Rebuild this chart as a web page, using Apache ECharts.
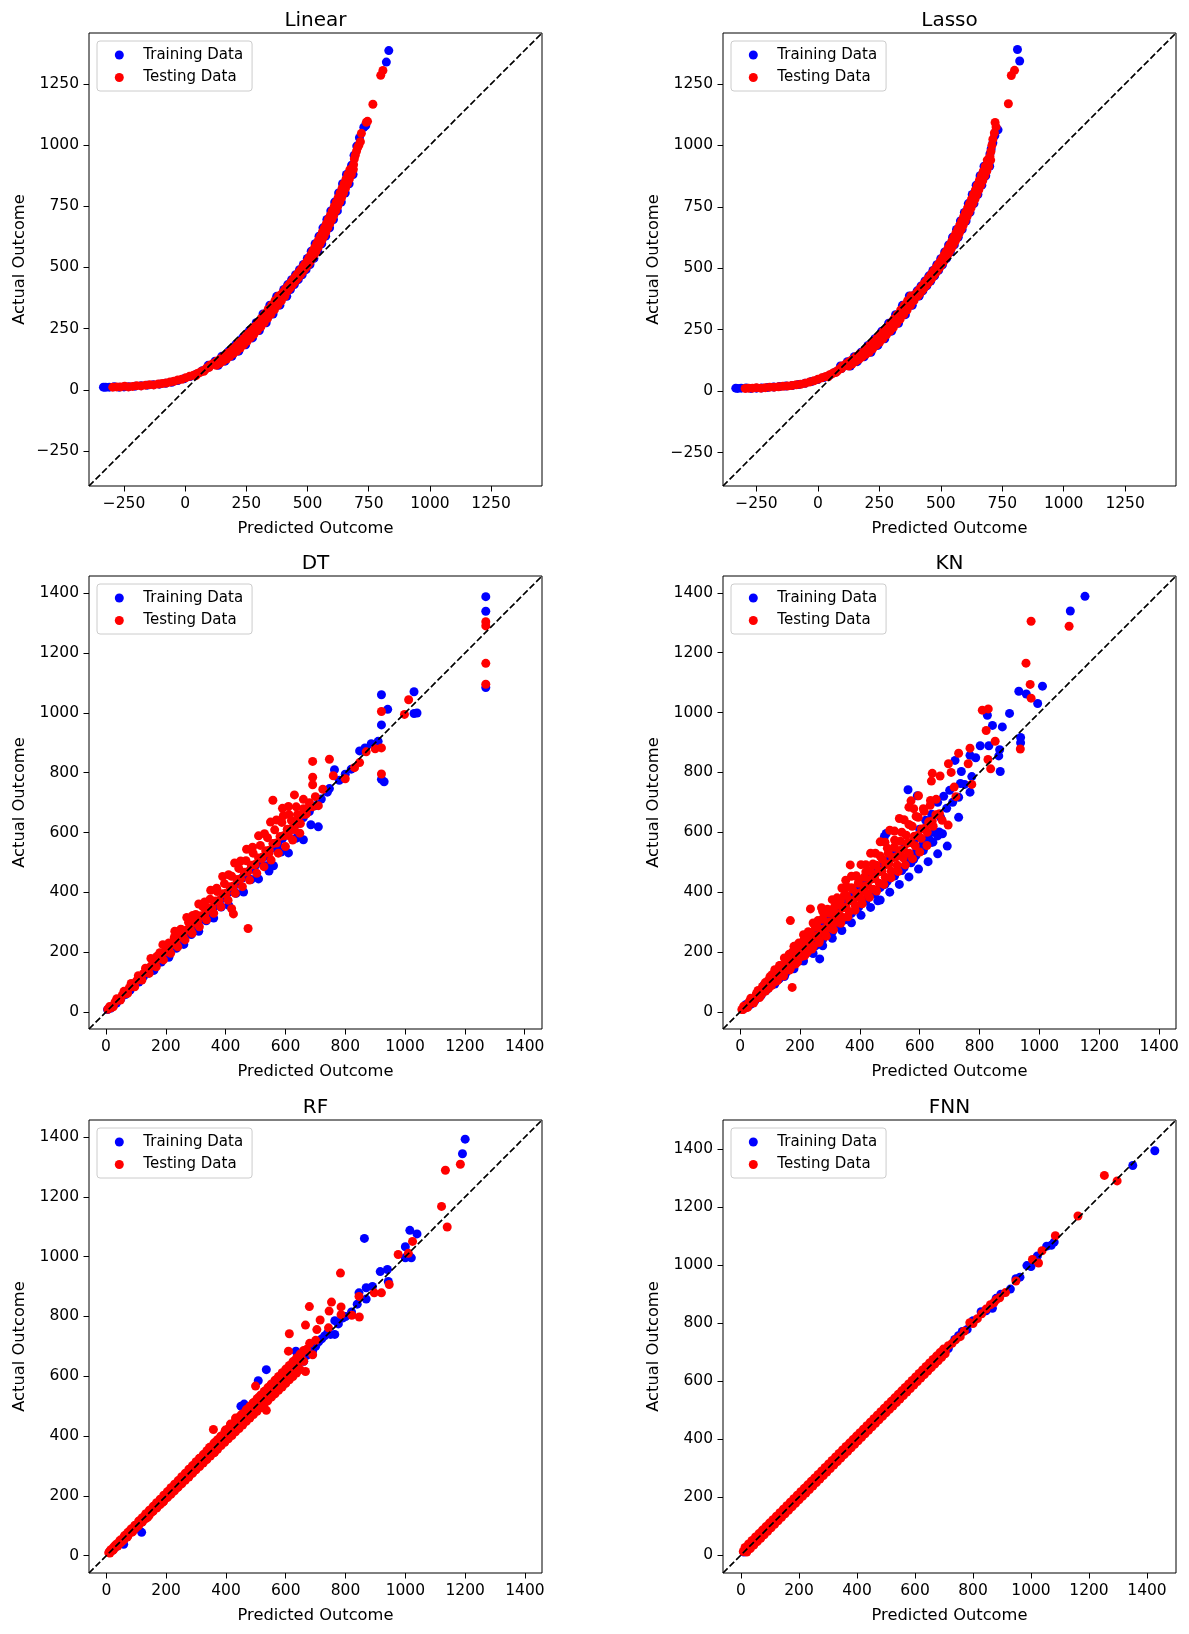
<!DOCTYPE html>
<html>
<head>
<meta charset="utf-8">
<script src="https://cdn.jsdelivr.net/npm/echarts@6/dist/echarts.min.js"></script>
<style>
  html, body { margin: 0; padding: 0; background: #fff; }
  #chart { width: 1189px; height: 1634px; }
</style>
</head>
<body>
<div id="chart"></div>
<script>
const FONT = 'DejaVu Sans';

const titles = ['Linear', 'Lasso', 'DT', 'KN', 'RF', 'FNN'];
const ticks250 = [-250, 0, 250, 500, 750, 1000, 1250];
const ticks200 = [0, 200, 400, 600, 800, 1000, 1200, 1400];

// axis limits (same for x and y in each panel)
const linearLim = [-393, 1458];
const lassoLim = [-386, 1457];
const dtLim = [-57, 1458];
const knLim = [-57, 1456];
const rfLim = [-58, 1457];
const fnnLim = [-62, 1500];

// [predicted, actual]
const linearTrain = [
  [-334,11],[-325,10],[-310,11],[-290,13],[-270,11],[-250,12],[-230,13],[-205,15],[-180,17],[-155,19],
  [-130,21],[-105,23],[-80,27],[-55,31],[-30,38],[-5,45],[20,54],[45,64],[70,78],[95,92],
  [94,100],[122,117],[150,137],[178,158],[206,184],[234,212],[262,242],[290,274],[318,310],[346,346],[374,382],
  [403,410],[419,430],[435,450],[451,470],[467,491],[483,512],[499,537],[515,566],[531,597],
  [547,628],[563,662],[579,696],[595,731],[611,767],[627,804],[643,842],[659,880],
  [135,100],[163,117],[191,137],[219,158],[247,184],[275,212],[303,242],[331,274],[359,310],[387,346],[415,382],
  [430,410],[446,430],[462,450],[478,470],[494,491],[510,512],[526,537],[542,566],[558,597],
  [574,628],[590,662],[606,696],[622,731],[638,767],[654,804],[670,842],[686,880],
  [672,890],[680,918],[690,958],[701,996],[712,1030],[730,1073],[738,1080],[822,1339],[832,1386]
];
const linearTest = [
  [-296,11],[-280,12],[-264,12],[-247,15],[-232,12],[-215,14],[-198,17],[-180,16],[-162,19],[-145,21],
  [-128,20],[-110,24],[-94,26],[-78,28],[-62,32],[-46,35],[-30,40],[-14,43],[2,49],[18,55],
  [34,60],[50,67],[66,75],[82,83],[98,92],[44,58],[60,70],[76,76],[90,90],
  [101,100],[115,108],[129,117],[143,126],[157,137],[171,148],[185,158],[199,171],[213,184],[227,198],
  [241,212],[255,227],[269,242],[283,257],[297,274],[311,292],[325,310],[339,328],[353,346],[367,364],[381,382],
  [127,100],[141,108],[155,117],[169,126],[183,137],[197,148],[211,158],[225,171],[239,184],[253,198],
  [267,212],[281,227],[295,242],[309,257],[323,274],[337,292],[351,310],[365,328],[379,346],[393,364],[407,382],
  [393,390],[401,400],[409,410],[417,420],[425,430],[433,440],[441,450],[449,460],[457,470],[465,481],
  [473,491],[481,502],[489,512],[497,524],[505,537],[513,551],[521,566],[529,581],[537,597],[545,612],
  [553,628],[561,645],[569,662],[577,679],[585,696],[593,713],[601,731],[609,749],[617,767],[625,785],
  [633,804],[641,823],[649,842],[657,861],[665,880],[673,900],
  [407,390],[415,400],[423,410],[431,420],[439,430],[447,440],[455,450],[463,460],[471,470],[479,481],
  [487,491],[495,502],[503,512],[511,524],[519,537],[527,551],[535,566],[543,581],[551,597],[559,612],
  [567,628],[575,645],[583,662],[591,679],[599,696],[607,713],[615,731],[623,749],[631,767],[639,785],
  [647,804],[655,823],[663,842],[671,861],[679,880],[687,900],
  [685,905],[688,920],[691,943],[695,958],[700,975],[705,990],[710,1000],[716,1014],[720,1048],[740,1093],
  [745,1097],[767,1167],[799,1285],[808,1305]
];

const lassoTrain = [
  [-334,12],[-326,11],[-312,12],[-292,13],[-272,11],[-250,12],[-228,13],[-204,15],[-180,17],[-156,19],
  [-130,21],[-104,23],[-78,27],[-52,32],[-26,39],[0,47],[24,55],[48,65],[72,78],[96,92],
  [92,102],[120,120],[148,140],[176,158],[204,186],[232,213],[260,244],[288,276],[316,311],[344,349],[372,387],
  [132,102],[160,120],[188,140],[216,158],[244,186],[272,213],[300,244],[328,276],[356,311],[384,349],[412,387],
  [388,388],[404,408],[420,428],[436,448],[452,469],[468,491],[484,514],[500,539],[516,566],[532,595],
  [548,626],[564,658],[580,692],[596,727],[612,763],[628,800],[644,838],[660,876],[676,915],
  [411,388],[427,408],[443,428],[459,448],[475,469],[491,491],[507,514],[523,539],[539,566],[555,595],
  [571,626],[587,658],[603,692],[619,727],[635,763],[651,800],[667,838],[683,876],[699,915],
  [700,965],[705,985],[712,1010],[720,1040],[725,1060],[733,1063],[812,1390],[821,1343]
];
const lassoTest = [
  [-296,11],[-282,12],[-266,12],[-250,14],[-232,12],[-214,14],[-196,16],[-178,16],[-160,18],[-142,20],
  [-124,21],[-106,23],[-88,26],[-70,28],[-52,32],[-34,37],[-16,42],[0,48],[16,54],[32,60],
  [48,67],[64,75],[80,83],[96,92],[42,58],[58,70],[74,76],[88,90],
  [99,102],[113,110],[127,120],[141,129],[155,140],[169,150],[183,158],[197,172],[211,186],[225,199],
  [239,213],[253,229],[267,244],[281,259],[295,276],[309,293],[323,311],[337,330],[351,349],[365,368],[379,387],
  [125,102],[139,110],[153,120],[167,129],[181,140],[195,150],[209,158],[223,172],[237,186],[251,199],
  [265,213],[279,229],[293,244],[307,259],[321,276],[335,293],[349,311],[363,330],[377,349],[391,368],[405,387],
  [393,388],[401,398],[409,408],[417,418],[425,428],[433,438],[441,448],[449,458],[457,469],[465,480],
  [473,491],[481,502],[489,514],[497,526],[505,539],[513,552],[521,566],[529,580],[537,595],[545,610],
  [553,626],[561,642],[569,658],[577,675],[585,692],[593,710],[601,727],[609,745],[617,763],[625,781],
  [633,800],[641,819],[649,838],[657,857],[665,876],[673,895],[681,915],[689,940],
  [407,388],[415,398],[423,408],[431,418],[439,428],[447,438],[455,448],[463,458],[471,469],[479,480],
  [487,491],[495,502],[503,514],[511,526],[519,539],[527,552],[535,566],[543,580],[551,595],[559,610],
  [567,626],[575,642],[583,658],[591,675],[599,692],[607,710],[615,727],[623,745],[631,763],[639,781],
  [647,800],[655,819],[663,838],[671,857],[679,876],[687,895],[695,915],[703,940],
  [700,955],[704,975],[708,1000],[712,1025],[718,1050],[721,1093],[725,1075],[775,1169],[787,1284],[800,1305]
];

const dtTrain = [
  [5,8],[15,12],[25,22],[35,30],[50,45],[65,58],[80,72],[95,90],[110,100],[125,118],
  [140,130],[155,145],[170,160],[185,178],[200,190],[215,205],[230,220],[245,238],[260,250],[275,262],
  [290,280],[305,298],[320,310],[335,322],[350,340],[365,355],[380,372],[395,385],[410,400],[425,412],
  [440,430],[455,448],[470,460],[485,478],[500,490],[515,505],[530,520],[545,471],[560,548],[575,560],
  [590,580],[605,595],[620,610],[640,630],[660,650],[680,670],[700,690],[720,712],[740,735],[747,747],
  [764,810],[780,775],[800,795],[820,812],[848,873],[866,883],[887,897],[910,905],[921,1061],[921,960],
  [921,778],[930,770],[942,1012],[1030,1071],[1030,998],[1040,1000],[1270,1389],[1270,1340],[1270,1085],
  [160,139],[185,167],[210,183],[235,213],[260,226],[285,259],[310,270],[335,305],[360,314],[385,351],
  [410,357],[435,397],[460,401],[485,443],[510,445],[535,489],[560,489],[585,535],[610,532],[635,581],
  [660,576],[685,626],[710,619]
];
const dtTest = [
  [6,9],[18,15],[30,33],[42,40],[54,55],[66,62],[78,81],[90,87],[102,104],[114,110],
  [126,129],[138,134],[150,153],[162,158],[174,177],[186,181],[198,201],[210,205],[222,226],[234,229],
  [246,250],[258,253],[270,274],[282,277],[294,298],[306,301],[318,322],[330,325],[342,347],[354,349],
  [366,371],[378,373],[390,395],[402,397],[414,419],[426,421],[438,443],[450,445],[462,467],[474,469],
  [486,491],[498,493],[510,515],[522,517],[534,539],[546,541],[558,563],[570,565],[582,587],[594,589],
  [606,611],[618,613],[630,636],[642,637],[654,660],[666,661],[678,684],[690,686],
  [12,18],[36,44],[60,69],[84,95],[108,121],[132,146],[156,172],[180,198],[204,223],[228,249],
  [252,275],[276,300],[300,326],[324,352],[348,377],[372,403],[396,429],[420,454],[444,480],[468,506],
  [492,531],[516,557],[540,583],[564,609],[588,634],[612,660],[636,686],[660,711],
  [24,17],[48,40],[72,62],[96,84],[120,107],[144,129],[168,151],[192,174],[216,196],[240,218],
  [264,241],[288,263],[312,285],[336,308],[360,330],[384,352],[408,374],[432,397],[456,419],[480,441],
  [504,464],[528,486],[552,508],[576,531],[600,553],[624,575],[648,598],
  [150,179],[170,186],[190,225],[210,231],[230,270],[250,277],[270,316],[290,323],[310,361],[330,368],
  [350,407],[370,414],[390,453],[410,459],[430,498],[450,505],[470,544],[490,551],[510,589],[530,596],
  [550,635],[570,642],[590,681],[610,687],[630,726],
  [420,345],[426,328],[475,279],[545,531],[558,708],[593,656],[520,513],[610,590],[620,640],[630,610],
  [640,660],[650,630],[660,680],[670,663],[680,700],[691,785],[691,838],[691,760],[700,720],[710,690],
  [725,745],[747,845],[760,790],[800,780],[831,817],[848,834],[870,870],[900,880],[921,1005],[921,883],
  [921,796],[1012,1044],[998,995],[1270,1305],[1270,1291],[1270,1166],[1270,1096]
];

const knTrain = [
  [12,10],[20,25],[30,22],[40,45],[50,38],[60,65],[70,55],[80,90],[90,75],[100,110],
  [110,95],[120,135],[130,110],[140,150],[150,125],[160,175],[170,150],[180,200],[190,165],[200,215],
  [210,190],[220,240],[230,205],[240,260],[250,225],[260,280],[266,177],[270,240],[280,300],[290,255],
  [300,320],[310,270],[320,340],[330,290],[340,360],[350,310],[360,380],[370,330],[380,400],[390,350],
  [400,420],[410,370],[420,440],[430,385],[440,460],[450,400],[460,371],[460,480],[470,420],[480,500],
  [482,586],[488,596],[490,440],[500,515],[510,460],[520,530],[530,480],[540,472],[550,560],[560,510],
  [561,742],[571,498],[580,570],[590,540],[592,722],[600,610],[610,560],[620,640],[630,580],[640,660],
  [650,600],[660,700],[665,601],[670,650],[680,720],[690,680],[700,740],[710,700],[718,840],[730,650],
  [730,717],[736,763],[739,803],[750,760],[768,734],[768,857],[774,786],[787,849],[802,889],[826,991],
  [831,889],[843,957],[864,855],[867,876],[869,803],[876,952],[900,997],[931,1071],[937,917],[937,899],
  [956,1062],[994,1030],[1010,1088],[1103,1339],[1152,1388],
  [36,26],[60,48],[84,70],[108,91],[132,113],[156,134],[180,156],[204,178],[228,199],[252,221],
  [276,242],[300,264],[324,286],[348,307],[372,329],[396,350],[420,372],[444,394],[468,415],[492,437],
  [516,458],[540,480],[564,502],[588,523],[612,545],[636,566],[660,588],
  [100,88],[116,93],[132,116],[148,118],[164,144],[180,144],[196,172],[212,170],[228,201],[244,195],
  [260,229],[276,221],[292,257],[308,246],[324,285],[340,272],[356,313],[372,298],[388,341],[404,323],
  [420,370],[436,349],[452,398],[468,374],[484,426],[500,400],[516,454],[532,426],[548,482],[564,451],
  [580,510],[596,477],[612,539],[628,502],[644,567],[660,528],[676,595],[692,554]
];
const knTest = [
  [10,8],[18,20],[25,15],[35,40],[45,30],[55,62],[65,48],[75,85],[85,70],[95,105],
  [105,88],[115,130],[125,105],[135,155],[145,120],[155,170],[165,140],[168,305],[174,82],[175,200],
  [185,160],[195,225],[205,185],[215,245],[225,200],[235,344],[235,265],[245,220],[255,290],[265,240],
  [272,348],[275,310],[285,260],[295,330],[305,280],[315,350],[325,300],[335,370],[345,315],[353,440],
  [355,390],[365,335],[368,491],[375,410],[385,355],[395,430],[405,375],[415,450],[425,395],[435,470],
  [445,410],[455,490],[465,430],[475,510],[485,450],[495,530],[505,470],[515,550],[525,490],[535,570],
  [545,515],[555,590],[565,530],[571,705],[575,620],[585,555],[595,650],[605,580],[615,670],[625,600],
  [635,690],[639,771],[642,797],[645,620],[655,710],[668,788],[675,640],[695,624],[696,829],[705,800],
  [715,751],[721,719],[730,864],[762,829],[768,881],[774,760],[809,1008],[822,940],[828,843],[829,1012],
  [837,812],[852,904],[936,878],[955,1165],[969,1094],[972,1048],[972,1305],[1099,1288],
  [6,8],[18,16],[30,33],[42,40],[54,57],[66,63],[78,82],[90,86],[102,106],[114,110],
  [126,131],[138,134],[150,155],[162,158],[174,179],[186,182],[198,203],[210,206],[222,227],[234,230],
  [246,251],[258,254],[270,275],[282,278],[294,299],[306,302],[318,323],[330,326],[342,347],[354,350],
  [366,371],[378,374],[390,395],[402,398],[414,419],[426,422],[438,443],[450,446],[462,467],[474,470],
  [486,491],[498,494],[510,515],[522,518],[534,539],[546,542],[558,563],[570,566],[582,587],[594,590],
  [606,611],[618,614],[630,635],[642,638],[654,659],[666,662],
  [12,19],[36,46],[60,72],[84,98],[108,125],[132,151],[156,178],[180,204],[204,230],[228,257],
  [252,283],[276,310],[300,336],[324,362],[348,389],[372,415],[396,442],[420,468],[444,494],[468,521],
  [492,547],[516,574],[540,600],[564,626],[588,653],[612,679],[636,706],
  [100,118],[116,141],[132,155],[148,180],[164,193],[180,219],[196,230],[212,258],[228,268],[244,297],
  [260,305],[276,336],[292,343],[308,375],[324,381],[340,414],[356,418],[372,453],[388,455],[404,492],
  [420,492],[436,530],[452,530],[468,568],[484,567],[500,607],[516,604],[532,646],[548,642],[564,684],
  [580,679],[596,722],
  [24,16],[48,37],[72,59],[96,80],[120,102],[144,124],[168,145],[192,167],[216,188],[240,210],
  [264,232],[288,253],[312,275],[336,296],[360,318],[384,340],[408,361],[432,383],[456,404],[480,426],
  [504,448],[528,469],[552,491],[576,512],[600,534],[624,556]
];

const rfTrain = [
  [10,12],[20,18],[30,28],[40,40],[50,46],[58,38],[60,60],[70,68],[80,80],[90,86],
  [100,100],[110,106],[118,78],[120,120],[130,126],[140,140],[150,146],[160,160],[170,166],[180,180],
  [190,186],[200,200],[210,206],[220,220],[230,226],[240,240],[250,250],[260,256],[270,270],[280,282],
  [290,288],[300,300],[310,305],[320,320],[330,326],[340,340],[350,345],[360,360],[370,365],[380,380],
  [390,385],[400,400],[410,405],[420,420],[430,425],[440,440],[450,500],[461,507],[460,455],[470,465],
  [480,480],[490,485],[500,500],[508,585],[510,505],[520,520],[530,525],[535,622],[540,540],[550,545],
  [560,560],[570,565],[580,580],[590,585],[600,600],[610,605],[620,620],[630,640],[634,684],[640,635],
  [650,655],[660,650],[670,670],[680,690],[690,685],[700,700],[710,715],[720,725],[730,735],[740,745],
  [750,740],[764,740],[764,786],[776,775],[790,795],[800,800],[820,815],[839,841],[845,879],[863,1061],
  [869,896],[869,858],[890,900],[916,950],[940,957],[943,917],[1000,1033],[1000,996],[1015,1088],[1020,996],
  [1039,1076],[1191,1344],[1200,1393]
];
const rfTest = [
  [8,10],[15,20],[22,18],[30,35],[38,32],[45,50],[55,50],[62,68],[70,62],[80,85],
  [88,80],[95,100],[105,98],[112,118],[120,112],[130,135],[138,128],[145,150],[155,148],[162,168],
  [170,162],[180,185],[188,178],[195,200],[205,198],[212,218],[220,212],[230,235],[238,228],[245,250],
  [255,248],[262,270],[270,262],[280,290],[288,278],[295,305],[305,298],[312,325],[320,312],[330,340],
  [338,328],[345,362],[355,345],[358,422],[362,346],[365,380],[375,365],[382,398],[392,385],[398,420],
  [408,400],[415,440],[425,418],[432,460],[442,435],[450,470],[460,450],[470,490],[480,470],[490,510],
  [499,567],[500,490],[510,530],[520,510],[530,550],[535,486],[540,530],[550,570],[560,550],[570,590],
  [580,570],[590,610],[600,590],[609,684],[612,742],[620,610],[630,650],[640,630],[650,670],[660,650],
  [666,616],[666,771],[670,690],[679,833],[680,710],[690,672],[700,720],[704,756],[715,788],[743,762],
  [745,818],[753,848],[783,945],[785,832],[785,806],[821,804],[845,867],[846,798],[896,879],[920,879],
  [946,907],[976,1007],[1010,1011],[1024,1051],[1121,1168],[1134,1289],[1140,1099],[1184,1309],
  [12,15],[36,40],[60,65],[84,90],[108,115],[132,140],[156,164],[180,189],[204,214],[228,239],
  [252,264],[276,289],[300,314],[324,338],[348,363],[372,388],[396,413],[420,438],[444,463],[468,487],
  [492,512],[516,537],[540,562],[564,587],[588,612],[612,636],[636,661],[660,686],
  [24,28],[48,53],[72,78],[96,102],[120,127],[144,152],[168,177],[192,202],[216,227],[240,251],
  [264,276],[288,301],[312,326],[336,351],[360,376],[384,400],[408,425],[432,450],[456,475],[480,500],
  [504,525],[528,549],[552,574],[576,599],[600,624],[624,649],[648,674],
  [24,20],[48,43],[72,66],[96,90],[120,113],[144,136],[168,159],[192,182],[216,205],[240,229],
  [264,252],[288,275],[312,298],[336,321],[360,344],[384,368],[408,391],[432,414],[456,437],[480,460],
  [504,483],[528,507],[552,530],[576,553],[600,576],[624,599],[648,622],
  [12,9],[36,32],[60,55],[84,78],[108,101],[132,124],[156,148],[180,171],[204,194],[228,217],
  [252,240],[276,263],[300,287],[324,310],[348,333],[372,356],[396,379],[420,402],[444,425],[468,449],
  [492,472],[516,495],[540,518],[564,541],[588,564],[612,588],[636,611]
];

const fnnTrain = [
  [10,10],[14,16],[30,30],[60,60],[90,90],[120,122],[150,150],[180,182],[210,210],[240,242],
  [270,270],[300,302],[330,330],[360,362],[390,390],[420,422],[450,450],[480,482],[510,510],[540,542],
  [570,570],[600,604],[630,632],[660,662],[690,692],[715,712],[737,743],[750,756],[763,771],[780,778],
  [800,808],[828,839],[845,842],[867,851],[880,885],[896,899],[929,917],[948,953],[962,958],[986,998],
  [1000,995],[1022,1031],[1054,1065],[1070,1068],[1080,1079],[1351,1343],[1427,1394]
];
const fnnTest = [
  [8,12],[20,18],[32,34],[44,42],[56,58],[68,66],[80,82],[92,90],[104,106],[116,114],
  [128,130],[140,138],[152,154],[164,162],[176,178],[188,186],[200,202],[212,210],[224,226],[236,234],
  [248,250],[260,258],[272,274],[284,282],[296,298],[308,306],[320,322],[332,330],[344,346],[356,354],
  [368,370],[380,378],[392,394],[404,402],[416,418],[428,426],[440,442],[452,450],[464,466],[476,474],
  [488,490],[500,498],[512,514],[524,522],[536,538],[548,546],[560,562],[572,570],[584,586],[596,594],
  [608,610],[620,622],[632,630],[644,646],[656,654],[668,670],[680,678],[692,694],[704,702],[715,722],
  [728,730],[740,742],[756,753],[770,772],[789,801],[800,798],[815,815],[830,832],[845,848],[860,863],
  [872,870],[880,880],[892,887],[912,905],[948,945],[1005,1019],[1026,1007],[1038,1049],[1084,1101],[1162,1169],
  [1253,1309],[1297,1290],
  [14,26],[26,38],[38,50],[50,62],[62,74],[74,86],[86,98],[98,110],[110,122],[122,134],
  [134,146],[146,158],[158,170],[170,182],[182,194],[194,206],[206,218],[218,230],[230,242],[242,254],
  [254,266],[266,278],[278,290],[290,302],[302,314],[314,326],[326,338],[338,350],[350,362],[362,374],
  [374,386],[386,398],[398,410],[410,422],[422,434],[434,446],[446,458],[458,470],[470,482],[482,494],
  [494,506],[506,518],[518,530],[530,542],[542,554],[554,566],[566,578],[578,590],[590,602],[602,614],
  [614,626],[626,638],[638,650],[650,662],[662,674],[674,686],[686,698],[698,710],
  [20,10],[32,22],[44,34],[56,46],[68,58],[80,70],[92,82],[104,94],[116,106],[128,118],
  [140,130],[152,142],[164,154],[176,166],[188,178],[200,190],[212,202],[224,214],[236,226],[248,238],
  [260,250],[272,262],[284,274],[296,286],[308,298],[320,310],[332,322],[344,334],[356,346],[368,358],
  [380,370],[392,382],[404,394],[416,406],[428,418],[440,430],[452,442],[464,454],[476,466],[488,478],
  [500,490],[512,502],[524,514],[536,526],[548,538],[560,550],[572,562],[584,574],[596,586],[608,598],
  [620,610],[632,622],[644,634],[656,646],[668,658],[680,670],[692,682],[704,694]
];

const panels = [
  { train: linearTrain, test: linearTest, lim: linearLim, ticks: ticks250 },
  { train: lassoTrain, test: lassoTest, lim: lassoLim, ticks: ticks250 },
  { train: dtTrain, test: dtTest, lim: dtLim, ticks: ticks200 },
  { train: knTrain, test: knTest, lim: knLim, ticks: ticks200 },
  { train: rfTrain, test: rfTest, lim: rfLim, ticks: ticks200 },
  { train: fnnTrain, test: fnnTest, lim: fnnLim, ticks: ticks200 },
];

const cols = [89, 723];
const rows = [33, 576, 1120];
const SIZE = 453;

const fmt = v => String(v).replace('-', '\u2212');

function makeAxis(p, i, dim) {
  return {
    type: 'value',
    gridIndex: i,
    min: p.lim[0],
    max: p.lim[1],
    name: dim === 'x' ? 'Predicted Outcome' : 'Actual Outcome',
    nameLocation: 'middle',
    nameGap: dim === 'x' ? 35 : 61,
    nameTextStyle: { color: '#000', fontSize: 16.3, fontFamily: FONT },
    axisLine: { show: false, onZero: false },
    axisTick: { show: true, length: 5.5, lineStyle: { color: '#000', width: 1 }, customValues: p.ticks },
    axisLabel: { customValues: p.ticks, color: '#000', fontSize: 15.5, fontFamily: FONT, margin: 10, formatter: fmt },
    splitLine: { show: false },
  };
}

const chart = echarts.init(document.getElementById('chart'));

chart.setOption({
  animation: false,
  backgroundColor: '#fff',
  title: titles.map((t, i) => ({
    text: t,
    left: cols[i % 2] + SIZE / 2,
    top: rows[Math.floor(i / 2)] - 23.5,
    textAlign: 'center',
    padding: 0,
    textStyle: { color: '#000', fontSize: 20, fontWeight: 'normal', fontFamily: FONT, lineHeight: 22 },
  })),
  grid: panels.map((p, i) => ({
    left: cols[i % 2],
    top: rows[Math.floor(i / 2)],
    width: SIZE,
    height: SIZE,
    show: true,
    borderColor: '#000',
    borderWidth: 1,
    backgroundColor: 'transparent',
    containLabel: false,
    outerBoundsMode: 'none',
  })),
  xAxis: panels.map((p, i) => makeAxis(p, i, 'x')),
  yAxis: panels.map((p, i) => makeAxis(p, i, 'y')),
  legend: panels.map((p, i) => ({
    data: ['Training Data', 'Testing Data'],
    orient: 'vertical',
    left: cols[i % 2] + 8,
    top: rows[Math.floor(i / 2)] + 8,
    icon: 'circle',
    itemWidth: 38,
    itemHeight: 9,
    itemGap: 6.5,
    padding: [6, 9, 5.5, 17.8],
    backgroundColor: 'rgba(255,255,255,0.8)',
    borderColor: '#cccccc',
    borderWidth: 1,
    borderRadius: 3,
    selectedMode: false,
    textStyle: { color: '#000', fontSize: 15, fontFamily: FONT, lineHeight: 16 },
  })),
  series: panels.flatMap((p, i) => [
    {
      name: 'Training Data',
      type: 'scatter',
      xAxisIndex: i,
      yAxisIndex: i,
      data: p.train,
      symbolSize: 9,
      itemStyle: { color: '#0000ff', opacity: 1 },
      silent: true,
      z: 2,
    },
    {
      name: 'Testing Data',
      type: 'scatter',
      xAxisIndex: i,
      yAxisIndex: i,
      data: p.test,
      symbolSize: 9,
      itemStyle: { color: '#ff0000', opacity: 1 },
      silent: true,
      z: 3,
    },
    {
      type: 'line',
      xAxisIndex: i,
      yAxisIndex: i,
      data: [[p.lim[0], p.lim[0]], [p.lim[1], p.lim[1]]],
      symbol: 'none',
      lineStyle: { color: '#000', width: 1.7, type: [6.5, 2.8] },
      silent: true,
      z: 5,
    },
  ]),
});

window.addEventListener('resize', () => chart.resize());
</script>
</body>
</html>
